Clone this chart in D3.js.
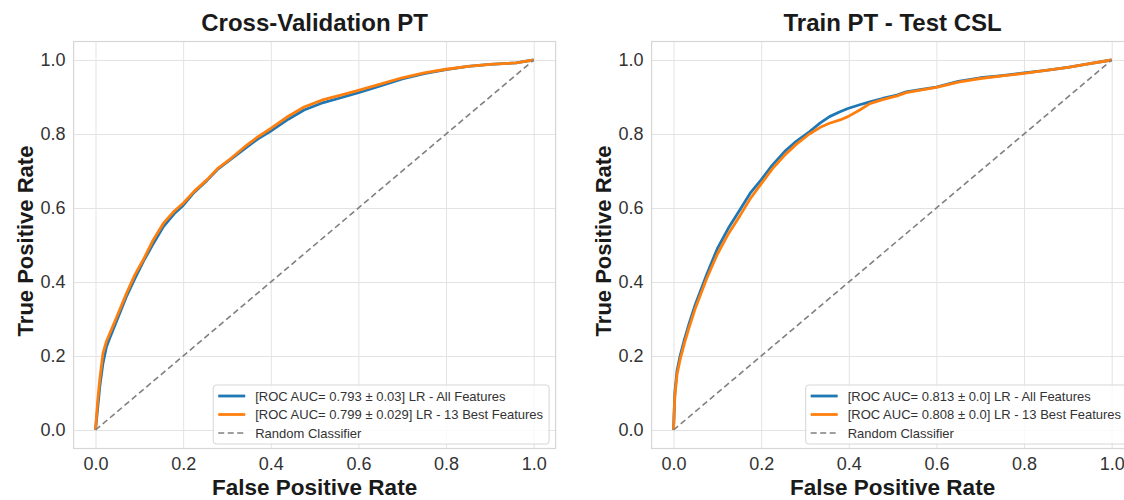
<!DOCTYPE html>
<html>
<head>
<meta charset="utf-8">
<script src="https://cdn.jsdelivr.net/npm/d3@7"></script>
<style>
  body { margin: 0; background: #fff; }
  text { font-family: "Liberation Sans", Arial, sans-serif; }
</style>
</head>
<body>
<svg id="chart" width="1124" height="500"></svg>
<script>
// ticks shared by both axes
var tickValues = [0, 0.2, 0.4, 0.6, 0.8, 1.0];

// Cross-Validation PT curves
var fprCV = [0, 0.005, 0.01, 0.017, 0.025, 0.033, 0.05, 0.071, 0.09, 0.109, 0.13, 0.155, 0.18, 0.2, 0.225, 0.254, 0.28, 0.31, 0.34, 0.37, 0.4, 0.44, 0.476, 0.52, 0.56, 0.6, 0.65, 0.7, 0.75, 0.8, 0.85, 0.9, 0.93, 0.96, 0.98, 1.0];
var tprCVAll = [0, 0.06, 0.12, 0.18, 0.225, 0.25, 0.3, 0.362, 0.41, 0.455, 0.5, 0.55, 0.585, 0.607, 0.642, 0.674, 0.706, 0.733, 0.76, 0.786, 0.808, 0.84, 0.865, 0.885, 0.898, 0.912, 0.93, 0.949, 0.963, 0.974, 0.983, 0.988, 0.99, 0.992, 0.996, 1.0];
var tprCVBest = [0, 0.08, 0.14, 0.207, 0.24, 0.262, 0.31, 0.37, 0.42, 0.46, 0.51, 0.559, 0.592, 0.613, 0.645, 0.676, 0.708, 0.735, 0.765, 0.792, 0.815, 0.848, 0.873, 0.893, 0.905, 0.918, 0.935, 0.952, 0.965, 0.975, 0.983, 0.988, 0.99, 0.992, 0.996, 1.0];

// Train PT - Test CSL curves
var fprTT = [0, 0.003, 0.008, 0.015, 0.025, 0.035, 0.05, 0.076, 0.1, 0.125, 0.152, 0.175, 0.2, 0.225, 0.254, 0.28, 0.31, 0.335, 0.356, 0.38, 0.398, 0.425, 0.448, 0.477, 0.51, 0.531, 0.57, 0.6, 0.65, 0.7, 0.75, 0.8, 0.85, 0.9, 0.95, 1.0];
var tprTTAll = [0, 0.1, 0.16, 0.2, 0.245, 0.285, 0.34, 0.421, 0.49, 0.545, 0.596, 0.64, 0.676, 0.715, 0.753, 0.78, 0.806, 0.83, 0.847, 0.86, 0.869, 0.879, 0.887, 0.896, 0.905, 0.914, 0.921, 0.927, 0.942, 0.952, 0.958, 0.965, 0.972, 0.98, 0.99, 1.0];
var tprTTBest = [0, 0.09, 0.15, 0.19, 0.235, 0.275, 0.33, 0.41, 0.475, 0.53, 0.58, 0.625, 0.665, 0.705, 0.743, 0.772, 0.8, 0.818, 0.829, 0.838, 0.847, 0.865, 0.882, 0.893, 0.903, 0.912, 0.92, 0.926, 0.94, 0.95, 0.957, 0.964, 0.972, 0.98, 0.99, 1.0];

var titles = ["Cross-Validation PT", "Train PT - Test CSL"];
var legendCV = ["[ROC AUC= 0.793 \u00b1 0.03] LR - All Features", "[ROC AUC= 0.799 \u00b1 0.029] LR - 13 Best Features", "Random Classifier"];
var legendTT = ["[ROC AUC= 0.813 \u00b1 0.0] LR - All Features", "[ROC AUC= 0.808 \u00b1 0.0] LR - 13 Best Features", "Random Classifier"];

var svg = d3.select("#chart");
var plotTop = 41.5, plotBottom = 448.5, axW = 482;
var blue = "#1f77b4", orange = "#ff7f0e", gray = "#808080";

function drawPanel(left, title, fpr, tprAll, tprBest, legendText) {
  var x = d3.scaleLinear().domain([-0.05, 1.05]).range([left, left + axW]);
  var y = d3.scaleLinear().domain([-0.05, 1.05]).range([plotBottom, plotTop]);
  var g = svg.append("g");

  // grid + tick labels
  var gx = g.append("g")
    .attr("transform", "translate(0," + plotBottom + ")")
    .call(d3.axisBottom(x).tickValues(tickValues).tickFormat(d3.format(".1f"))
      .tickSize(-(plotBottom - plotTop)).tickPadding(9));
  var gy = g.append("g")
    .attr("transform", "translate(" + left + ",0)")
    .call(d3.axisLeft(y).tickValues(tickValues).tickFormat(d3.format(".1f"))
      .tickSize(-axW).tickPadding(8));
  [gx, gy].forEach(function (a) {
    a.select(".domain").remove();
    a.selectAll(".tick line").attr("stroke", "#e3e3e3").attr("stroke-width", 1);
    a.selectAll(".tick text").attr("fill", "#333").style("font-size", "18px")
      .style("font-family", '"Liberation Sans", Arial, sans-serif');
  });

  // frame
  g.append("rect")
    .attr("x", left).attr("y", plotTop)
    .attr("width", axW).attr("height", plotBottom - plotTop)
    .attr("fill", "none").attr("stroke", "#d6d6d6").attr("stroke-width", 1.2);

  var line = d3.line()
    .x(function (d) { return x(d[0]); })
    .y(function (d) { return y(d[1]); });

  g.append("path")
    .datum(fpr.map(function (f, i) { return [f, tprAll[i]]; }))
    .attr("d", line).attr("fill", "none")
    .attr("stroke", blue).attr("stroke-width", 2.8).attr("stroke-linejoin", "round");
  g.append("path")
    .datum(fpr.map(function (f, i) { return [f, tprBest[i]]; }))
    .attr("d", line).attr("fill", "none")
    .attr("stroke", orange).attr("stroke-width", 2.8).attr("stroke-linejoin", "round");
  g.append("path")
    .datum([[0, 0], [1, 1]])
    .attr("d", line).attr("fill", "none")
    .attr("stroke", gray).attr("stroke-width", 1.6).attr("stroke-dasharray", "6,3.5");

  // title and axis labels
  g.append("text")
    .attr("x", left + axW / 2).attr("y", 31)
    .attr("text-anchor", "middle")
    .style("font-size", "24px").style("font-weight", "bold").attr("fill", "#1a1a1a")
    .text(title);
  g.append("text")
    .attr("x", left + axW / 2).attr("y", 495)
    .attr("text-anchor", "middle")
    .style("font-size", "22.5px").style("font-weight", "bold").attr("fill", "#1a1a1a")
    .text("False Positive Rate");
  g.append("text")
    .attr("transform", "translate(" + (left - 40.5) + "," + 241 + ") rotate(-90)")
    .attr("text-anchor", "middle")
    .style("font-size", "22px").style("font-weight", "bold").attr("fill", "#1a1a1a")
    .text("True Positive Rate");

  // legend, lower right
  var lg = g.append("g");
  var box = lg.append("rect");
  var rowY = [0, 18.5, 37];
  var texts = lg.selectAll("text.leg").data(legendText).enter().append("text")
    .attr("class", "leg")
    .attr("x", 42).attr("y", function (d, i) { return rowY[i]; })
    .attr("dy", "0.35em")
    .style("font-size", "13px").attr("fill", "#333")
    .text(function (d) { return d; });
  var maxW = 0;
  texts.each(function () { maxW = Math.max(maxW, this.getComputedTextLength()); });
  var bw = 42 + maxW + 6, bh = 59;
  box.attr("x", 0).attr("y", -11).attr("width", bw).attr("height", bh)
    .attr("rx", 3).attr("fill", "#fff").attr("fill-opacity", 0.8)
    .attr("stroke", "#d6d6d6").attr("stroke-width", 1);
  var samples = [{c: blue, w: 2.8, dash: null}, {c: orange, w: 2.8, dash: null}, {c: gray, w: 1.6, dash: "6,3.5"}];
  samples.forEach(function (s, i) {
    lg.append("line")
      .attr("x1", 5).attr("x2", 32).attr("y1", rowY[i]).attr("y2", rowY[i])
      .attr("stroke", s.c).attr("stroke-width", s.w)
      .attr("stroke-dasharray", s.dash);
  });
  lg.attr("transform", "translate(" + (left + axW - 6.5 - bw) + "," + 396 + ")");
}

drawPanel(73.6, titles[0], fprCV, tprCVAll, tprCVBest, legendCV);
drawPanel(651.6, titles[1], fprTT, tprTTAll, tprTTBest, legendTT);
</script>
</body>
</html>
